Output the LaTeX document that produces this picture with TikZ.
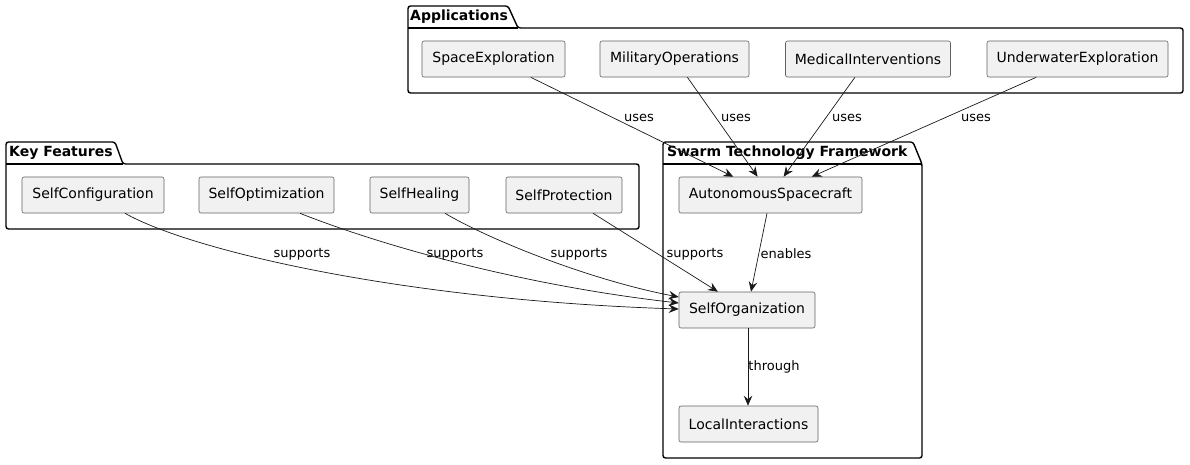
\documentclass[tikz,border=0pt]{standalone}
\usepackage{fontspec}
\setmainfont{DejaVu Sans}
\usetikzlibrary{arrows.meta,calc}
\begin{document}
\begin{tikzpicture}[x=1pt,y=1pt,
  box/.style={draw=black!62,line width=0.6pt,fill=black!5.5,rounded corners=2pt,minimum height=36pt,inner sep=0pt,font=\fontsize{14}{16}\selectfont},
  pkg/.style={draw=black,line width=1.4pt,rounded corners=2.5pt},
  ptitle/.style={font=\fontsize{14}{16}\selectfont\bfseries,anchor=west,inner sep=0pt},
  conn/.style={draw=black!90,line width=0.7pt,-{Stealth[length=10pt,width=8.5pt,inset=3.5pt]}},
  lbl/.style={font=\fontsize{13}{15}\selectfont,inner sep=0pt}]
\useasboundingbox (0,0) rectangle (1190,-464);
% packages
\draw[pkg] (408,-28) -- (408,-6) -- (508,-6) -- (518,-28) -- (1183,-28) -- (1183,-93) -- (408,-93) -- cycle;
\draw[pkg,rounded corners=0pt] (408,-28) -- (518,-28);
\node[ptitle] (tapp) at (410,-17) {Applications};
\draw[pkg] (6,-164) -- (6,-142) -- (115,-142) -- (123,-164) -- (639,-164) -- (639,-229) -- (6,-229) -- cycle;
\draw[pkg,rounded corners=0pt] (6,-164) -- (123,-164);
\node[ptitle] (tkey) at (9,-153) {Key Features};
\draw[pkg] (663,-164) -- (663,-142) -- (913,-142) -- (922,-164) -- (922,-458) -- (663,-458) -- cycle;
\draw[pkg,rounded corners=0pt] (663,-164) -- (922,-164);
\node[ptitle] (tswarm) at (667,-153) {Swarm Technology Framework};
% nodes
\node[box,minimum width=143pt] (se) at (493.5,-59) {SpaceExploration};
\node[box,minimum width=149pt] (mo) at (674.5,-59) {MilitaryOperations};
\node[box,minimum width=165pt] (mi) at (868,-59) {MedicalInterventions};
\node[box,minimum width=181pt] (ue) at (1077.5,-59) {UnderwaterExploration};
\node[box,minimum width=142pt] (sc) at (93,-195) {SelfConfiguration};
\node[box,minimum width=135pt] (sop) at (266.5,-195) {SelfOptimization};
\node[box,minimum width=99pt] (sh) at (419.5,-195) {SelfHealing};
\node[box,minimum width=116pt] (sp) at (564,-195) {SelfProtection};
\node[box,minimum width=183pt] (as) at (770.5,-195) {AutonomousSpacecraft};
\node[box,minimum width=136pt] (so) at (747,-310) {SelfOrganization};
\node[box,minimum width=139pt] (li) at (748.5,-424) {LocalInteractions};
% connectors
\draw[conn] (se) -- (as);
\draw[conn] (mo) -- (as);
\draw[conn] (mi) -- (as);
\draw[conn] (ue) -- (as);
\draw[conn] ($(as.south)+(-3.5,0)$) -- ($(so.north)+(4,0)$);
\draw[conn] ($(so.south)+(1,0)$) -- ($(li.north)+(-0.5,0)$);
\draw[conn] ($(sc.south)+(32,0)$) .. controls (190,-250) and (400,-300) .. ($(so.west)+(0,1)$);
\draw[conn] ($(sop.south)+(33.5,0)$) .. controls (380,-245) and (520,-285) .. ($(so.west)+(0,7)$);
\draw[conn] ($(sh.south)+(25.5,0)$) .. controls (490,-240) and (590,-280) .. ($(so.west)+(0,13)$);
\draw[conn] (sp) -- (so);
% labels
\node[lbl] (l1) at (639,-118) {uses};
\node[lbl] (l2) at (736,-118) {uses};
\node[lbl] (l3) at (847,-118) {uses};
\node[lbl] (l4) at (976,-118) {uses};
\node[lbl] (l5) at (302,-254) {supports};
\node[lbl] (l6) at (455,-254) {supports};
\node[lbl] (l7) at (579,-254) {supports};
\node[lbl] (l8) at (695,-254) {supports};
\node[lbl] (l9) at (786,-254) {enables};
\node[lbl] (l10) at (774,-367) {through};
\end{tikzpicture}
\end{document}
